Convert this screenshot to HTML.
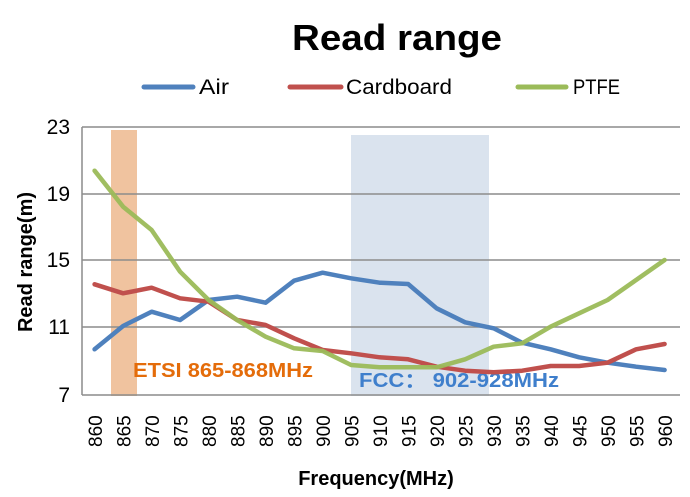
<!DOCTYPE html>
<html><head><style>body{margin:0;background:#fff}svg{display:block}</style></head><body>
<svg width="690" height="497" viewBox="0 0 690 497" font-family="Liberation Sans, sans-serif">
<text x="397" y="50" font-size="36" font-weight="bold" text-anchor="middle" textLength="210" lengthAdjust="spacingAndGlyphs">Read range</text>
<g stroke-width="5" stroke-linecap="round">
<line x1="144" y1="87" x2="193" y2="87" stroke="#4f81bd"/>
<line x1="290" y1="87" x2="341" y2="87" stroke="#c0504d"/>
<line x1="518" y1="87" x2="566" y2="87" stroke="#9bbb59"/>
</g>
<g font-size="21" fill="#000">
<text x="199" y="94" textLength="30" lengthAdjust="spacingAndGlyphs">Air</text>
<text x="346" y="94" textLength="106" lengthAdjust="spacingAndGlyphs">Cardboard</text>
<text x="573" y="94" textLength="47" lengthAdjust="spacingAndGlyphs">PTFE</text>
</g>
<rect x="111" y="130" width="26" height="266" fill="#f0c39f"/>
<rect x="351" y="135" width="138" height="261" fill="#dae3ee"/>
<g stroke="#8c8c8c" stroke-width="1.5">
<line x1="82" y1="127" x2="680" y2="127"/>
<line x1="82" y1="194" x2="680" y2="194"/>
<line x1="82" y1="260" x2="680" y2="260"/>
<line x1="82" y1="327" x2="680" y2="327"/>
<line x1="82" y1="395" x2="680" y2="395"/>
<line x1="82" y1="127" x2="82" y2="395"/>
</g>
<g font-size="21" text-anchor="end">
<text x="70" y="134">23</text><text x="70" y="201">19</text><text x="70" y="267">15</text><text x="70" y="334">11</text><text x="70" y="402">7</text>
</g>
<text x="133" y="377" font-size="20" font-weight="bold" fill="#e46c0a" textLength="180" lengthAdjust="spacingAndGlyphs">ETSI 865-868MHz</text>
<text x="359" y="387" font-size="20" font-weight="bold" fill="#3f7fcc" textLength="200" lengthAdjust="spacingAndGlyphs">FCC：  902-928MHz</text>
<g fill="none" stroke-width="4.5" stroke-linejoin="round" stroke-linecap="round">
<polyline stroke="#4f81bd" points="94.6,349.3 123.1,326 151.6,311.7 180.1,320 208.6,300 237.1,296.7 265.6,302.7 294.1,280.7 322.6,272.7 351.1,278.3 379.6,282.7 408.1,284 436.6,308.3 465.1,322.3 493.6,328.3 522.1,342.7 550.6,349.3 579.1,357.3 607.6,362.7 636.1,366.7 664.6,370"/>
<polyline stroke="#c0504d" points="94.6,284.3 123.1,293.3 151.6,287.7 180.1,298.3 208.6,301.7 237.1,320 265.6,325 294.1,338.3 322.6,350 351.1,353.3 379.6,357.3 408.1,359.3 436.6,366.7 465.1,370.7 493.6,372.3 522.1,370.7 550.6,366 579.1,366 607.6,362.7 636.1,349.3 664.6,344"/>
<polyline stroke="#9bbb59" stroke-opacity="0.95" points="94.6,170.7 123.1,206.7 151.6,230 180.1,271.7 208.6,300 237.1,320 265.6,336.7 294.1,348.3 322.6,351 351.1,365 379.6,367.3 408.1,367.3 436.6,367.3 465.1,359.3 493.6,346.7 522.1,343.3 550.6,326.7 579.1,313.3 607.6,300 636.1,280 664.6,260"/>
</g>
<g font-size="19">
<text transform="translate(102,447) rotate(-90)">860</text>
<text transform="translate(130.5,447) rotate(-90)">865</text>
<text transform="translate(159,447) rotate(-90)">870</text>
<text transform="translate(187.5,447) rotate(-90)">875</text>
<text transform="translate(216,447) rotate(-90)">880</text>
<text transform="translate(244.5,447) rotate(-90)">885</text>
<text transform="translate(273,447) rotate(-90)">890</text>
<text transform="translate(301.5,447) rotate(-90)">895</text>
<text transform="translate(330,447) rotate(-90)">900</text>
<text transform="translate(358.5,447) rotate(-90)">905</text>
<text transform="translate(387,447) rotate(-90)">910</text>
<text transform="translate(415.5,447) rotate(-90)">915</text>
<text transform="translate(444,447) rotate(-90)">920</text>
<text transform="translate(472.5,447) rotate(-90)">925</text>
<text transform="translate(501,447) rotate(-90)">930</text>
<text transform="translate(529.5,447) rotate(-90)">935</text>
<text transform="translate(558,447) rotate(-90)">940</text>
<text transform="translate(586.5,447) rotate(-90)">945</text>
<text transform="translate(615,447) rotate(-90)">950</text>
<text transform="translate(643.5,447) rotate(-90)">955</text>
<text transform="translate(672,447) rotate(-90)">960</text>
</g>
<text x="376" y="485" font-size="20" font-weight="bold" text-anchor="middle">Frequency(MHz)</text>
<text transform="translate(32,262) rotate(-90)" font-size="20" font-weight="bold" text-anchor="middle">Read range(m)</text>
</svg>
</body></html>
